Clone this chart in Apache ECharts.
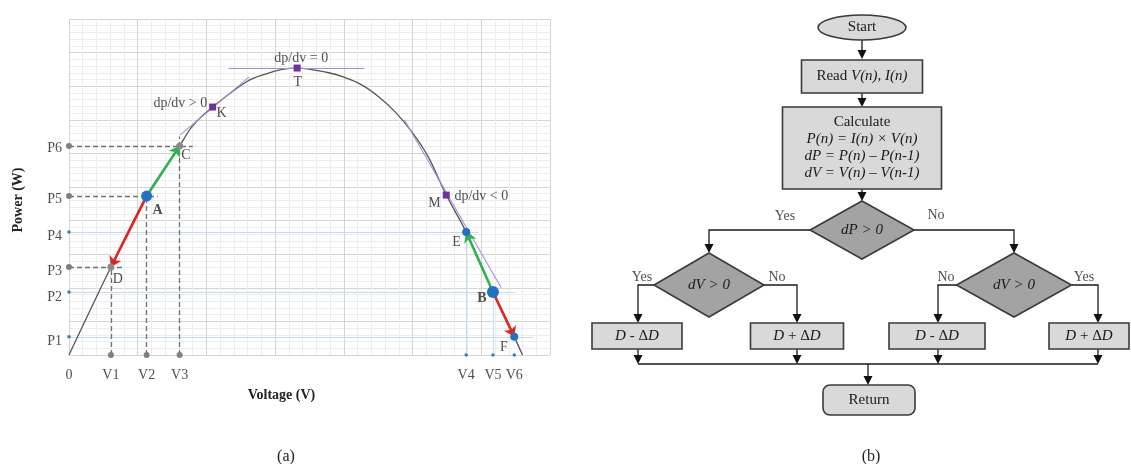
<!DOCTYPE html>
<html><head><meta charset="utf-8">
<script src="https://cdn.jsdelivr.net/npm/echarts@6/dist/echarts.min.js"></script>
<style>html,body{margin:0;padding:0;background:#fff}#c{width:1131px;height:464px}</style>
</head><body><div id="c"></div>
<script>
// ---------- (a) P-V curve data ----------
const curveV = [0, 0.61, 1.13, 1.61, 1.8, 2.09, 2.59, 2.87, 3.1, 3.32, 3.78, 4.0, 4.26, 4.51, 4.75, 4.99, 5.23, 5.49, 5.78, 6.17, 6.48, 6.6];
const curveP = [0, 2.62, 4.73, 6.22, 6.82, 7.38, 8.14, 8.37, 8.5, 8.54, 8.4, 8.27, 8.04, 7.68, 7.23, 6.64, 5.89, 4.76, 3.66, 1.875, 0.54, 0];

const xTickNames = ['0', 'V1', 'V2', 'V3', 'V4', 'V5', 'V6'];
const xTickVals  = [0, 0.61, 1.13, 1.61, 5.78, 6.17, 6.48];
const yTickNames = ['P1', 'P2', 'P3', 'P4', 'P5', 'P6'];
const yTickVals  = [0.42, 1.73, 2.5, 3.54, 4.64, 6.16];

// operating points
const ptA = [1.13, 4.73], ptC = [1.61, 6.22], ptD = [0.61, 2.62];
const ptB = [6.17, 1.875], ptE = [5.78, 3.66], ptF = [6.48, 0.54];
const ptK = [2.09, 7.38], ptT = [3.32, 8.54], ptM = [5.49, 4.76];

// tangent segments
const tangents = [
  [[1.62, 6.55], [2.62, 8.27]],
  [[2.32, 8.54], [4.3, 8.54]],
  [[4.88, 7.0], [6.29, 2.0]]
];
// dashed projection segments
const dashedSegs = [
  [[0, 6.22], [1.8, 6.22]], [[1.61, 0], [1.61, 6.5]],
  [[0, 4.73], [1.29, 4.73]], [[1.13, 0], [1.13, 4.73]],
  [[0, 2.62], [0.81, 2.62]], [[0.61, 0], [0.61, 2.62]]
];
// light blue projection segments
const blueSegs = [
  [[0, 3.66], [5.96, 3.66]], [[0, 1.875], [6.5, 1.875]], [[0, 0.54], [6.75, 0.54]],
  [[5.78, 0], [5.78, 3.66]], [[6.17, 0], [6.17, 1.875]]
];
const greyDots = [[0, 6.22], [0, 4.73], [0, 2.62], [0.61, 0], [1.13, 0], [1.61, 0]];
const blueDots = [[0, 3.66], [0, 1.875], [0, 0.54], [5.78, 0], [6.17, 0], [6.48, 0]];

// annotation texts (text centre in data coords)
const annText = ['C', 'D', 'E', 'F', 'K', 'T', 'M', 'dp/dv > 0', 'dp/dv = 0', 'dp/dv < 0'];
const annV    = [1.70, 0.71, 5.64, 6.33, 2.22, 3.33, 5.32, 1.62, 3.38, 6.0];
const annP    = [5.95, 2.26, 3.36, 0.24, 7.2, 8.13, 4.52, 7.5, 8.84, 4.73];
const boldText = ['A', 'B'];
const boldV    = [1.29, 6.01];
const boldP    = [4.29, 1.67];

// ---------- (b) flowchart ----------
const fcShape = ['ellipse', 'rect', 'rect', 'diamond', 'diamond', 'diamond', 'rect', 'rect', 'rect', 'rect', 'round'];
const fcText = [
  'Start',
  'Read {i|V(n), I(n)}',
  'Calculate\n{i|P(n) = I(n) × V(n)}\n{i|dP = P(n) – P(n-1)}\n{i|dV = V(n) – V(n-1)}',
  '{i|dP > 0}', '{i|dV > 0}', '{i|dV > 0}',
  '{i|D} - Δ{i|D}', '{i|D} + Δ{i|D}', '{i|D} - Δ{i|D}', '{i|D} + Δ{i|D}',
  'Return'
];
const fcCx = [862, 862, 862, 862, 709, 1014, 637, 797, 937, 1089, 869];
const fcCy = [27.5, 76.5, 148, 230, 285, 285, 336, 336, 336, 336, 400];
const fcW  = [88, 121, 159, 104, 110, 115, 90, 93, 96, 80, 92];
const fcH  = [25, 33, 82, 58, 64, 64, 26, 26, 26, 26, 30];
const fcEdges = [
  [[862, 40], [862, 59]], [[862, 93], [862, 107]], [[862, 189], [862, 201]],
  [[810, 230], [709, 230], [709, 253]], [[914, 230], [1014, 230], [1014, 253]],
  [[654, 285], [638, 285], [638, 323]], [[764, 285], [797, 285], [797, 323]],
  [[957, 285], [938, 285], [938, 323]], [[1072, 285], [1098, 285], [1098, 323]],
  [[638, 349], [638, 364]], [[797, 349], [797, 364]], [[938, 349], [938, 364]], [[1098, 349], [1098, 364]],
  [[638, 364], [1098, 364]], [[868, 364], [868, 385]]
];
const fcArrow = [1, 1, 1, 1, 1, 1, 1, 1, 1, 1, 1, 1, 1, 0, 1];
const fcLabel = ['Yes', 'No', 'Yes', 'No', 'No', 'Yes'];
const fcLx = [785, 936, 642, 777, 946, 1084];
const fcLy = [216, 215, 277, 277, 277, 277];

const SERIF = '"Liberation Serif", "DejaVu Serif", serif';
const chart = echarts.init(document.getElementById('c'));

const segData = segs => segs.map(s => ({coords: s}));

chart.setOption({
  animation: false,
  backgroundColor: '#fff',
  title: [
    {text: '(a)', left: 281, top: 444, textAlign: 'center', textStyle: {fontFamily: SERIF, fontSize: 16, fontWeight: 'normal', color: '#222'}},
    {text: '(b)', left: 866, top: 444, textAlign: 'center', textStyle: {fontFamily: SERIF, fontSize: 16, fontWeight: 'normal', color: '#222'}}
  ],
  grid: [
    {left: 69, top: 19, width: 481, height: 336},
    {left: 0, top: 0, width: 1131, height: 464}
  ],
  xAxis: [
    {gridIndex: 0, type: 'value', min: 0, max: 7, interval: 1,
     name: 'Voltage (V)', nameLocation: 'middle', nameGap: 33,
     nameTextStyle: {fontFamily: SERIF, fontWeight: 'bold', fontSize: 14, color: '#222', padding: [0, 56, 0, 0]},
     axisLine: {show: false}, axisTick: {show: false}, axisLabel: {show: false},
     splitLine: {show: true, lineStyle: {color: '#d4d4d4', width: 1}},
     minorTick: {show: false, splitNumber: 5},
     minorSplitLine: {show: true, lineStyle: {color: '#ededed', width: 1}}},
    {gridIndex: 1, type: 'value', min: 0, max: 1131, show: false}
  ],
  yAxis: [
    {gridIndex: 0, type: 'value', min: 0, max: 10, interval: 1,
     name: 'Power (W)', nameLocation: 'middle', nameGap: 44,
     nameTextStyle: {fontFamily: SERIF, fontWeight: 'bold', fontSize: 14, color: '#222', padding: [0, 26, 0, 0]},
     axisLine: {show: false}, axisTick: {show: false}, axisLabel: {show: false},
     splitLine: {show: true, lineStyle: {color: '#d4d4d4', width: 1}},
     minorTick: {show: false, splitNumber: 5},
     minorSplitLine: {show: true, lineStyle: {color: '#ededed', width: 1}}},
    {gridIndex: 1, type: 'value', min: 0, max: 464, inverse: true, show: false}
  ],
  series: [
    {type: 'lines', coordinateSystem: 'cartesian2d', xAxisIndex: 0, yAxisIndex: 0, silent: true,
     lineStyle: {color: '#c3dbf0', width: 1, opacity: 1}, symbol: 'none', data: segData(blueSegs), z: 2},
    {type: 'lines', coordinateSystem: 'cartesian2d', xAxisIndex: 0, yAxisIndex: 0, silent: true,
     lineStyle: {color: '#707070', width: 1.3, type: [5, 3], opacity: 1}, symbol: 'none', data: segData(dashedSegs), z: 3},
    {type: 'line', xAxisIndex: 0, yAxisIndex: 0, data: curveV.map((v, i) => [v, curveP[i]]),
     smooth: 0.35, showSymbol: false, lineStyle: {color: '#555555', width: 1.3}, z: 4},
    {type: 'lines', coordinateSystem: 'cartesian2d', xAxisIndex: 0, yAxisIndex: 0, silent: true,
     lineStyle: {color: '#a98fd0', width: 1.1, opacity: 1}, symbol: 'none', data: segData(tangents), z: 5},
    {type: 'lines', coordinateSystem: 'cartesian2d', xAxisIndex: 0, yAxisIndex: 0, silent: true,
     symbol: ['none', 'arrow'], symbolSize: 10,
     data: [
       {coords: [ptA, ptD], lineStyle: {color: '#e42320', width: 2.6, opacity: 1}},
       {coords: [ptA, ptC], lineStyle: {color: '#2fb34c', width: 2.6, opacity: 1}},
       {coords: [ptB, ptE], lineStyle: {color: '#2fb34c', width: 2.6, opacity: 1}},
       {coords: [ptB, ptF], lineStyle: {color: '#e42320', width: 2.6, opacity: 1}}
     ], z: 6},
    {type: 'scatter', xAxisIndex: 0, yAxisIndex: 0, symbolSize: 6, itemStyle: {color: '#7f7f7f', opacity: 1}, data: greyDots, z: 7},
    {type: 'scatter', xAxisIndex: 0, yAxisIndex: 0, symbolSize: 3.5, itemStyle: {color: '#2d7fc4', opacity: 1}, data: blueDots, z: 7},
    {type: 'scatter', xAxisIndex: 0, yAxisIndex: 0, symbolSize: 7, itemStyle: {color: '#8a8a8a', opacity: 1}, data: [ptC, ptD], z: 8},
    {type: 'scatter', xAxisIndex: 0, yAxisIndex: 0, itemStyle: {color: '#1f72c4', opacity: 1},
     data: [{value: ptA, symbolSize: 11}, {value: ptB, symbolSize: 12}, {value: ptE, symbolSize: 8}, {value: ptF, symbolSize: 8}], z: 8},
    {type: 'scatter', xAxisIndex: 0, yAxisIndex: 0, symbol: 'rect', symbolSize: 7, itemStyle: {color: '#7030a0', opacity: 1},
     data: [ptK, ptT, ptM], z: 8},
    // annotation texts
    {type: 'scatter', xAxisIndex: 0, yAxisIndex: 0, symbolSize: 0, silent: true, z: 9,
     label: {show: true, position: 'inside', formatter: p => p.name, fontFamily: SERIF, fontSize: 14, color: '#222'},
     data: annText.map((t, i) => ({name: t, value: [annV[i], annP[i]]}))},
    {type: 'scatter', xAxisIndex: 0, yAxisIndex: 0, symbolSize: 0, silent: true, z: 9,
     label: {show: true, position: 'inside', formatter: p => p.name, fontFamily: SERIF, fontSize: 14, fontWeight: 'bold', color: '#222'},
     data: boldText.map((t, i) => ({name: t, value: [boldV[i], boldP[i]]}))},
    // tick labels
    {type: 'scatter', xAxisIndex: 0, yAxisIndex: 0, symbolSize: 0, silent: true, z: 9,
     label: {show: true, position: 'bottom', distance: 13, formatter: p => p.name, fontFamily: SERIF, fontSize: 14, color: '#222'},
     data: xTickNames.map((t, i) => ({name: t, value: [xTickVals[i], 0]}))},
    {type: 'scatter', xAxisIndex: 0, yAxisIndex: 0, symbolSize: 0, silent: true, z: 9,
     label: {show: true, position: 'left', distance: 7, formatter: p => p.name, fontFamily: SERIF, fontSize: 14, color: '#222'},
     data: yTickNames.map((t, i) => ({name: t, value: [0, yTickVals[i]]}))},
    // flowchart edges
    {type: 'custom', xAxisIndex: 1, yAxisIndex: 1, silent: true, z: 10,
     data: fcEdges.map(e => e[0]),
     renderItem: (params, api) => {
       const i = params.dataIndex;
       const pts = fcEdges[i].map(p => api.coord(p));
       const ch = [];
       const last = pts[pts.length - 1];
       const linePts = pts.slice();
       if (fcArrow[i]) linePts[linePts.length - 1] = [last[0], last[1] - 6];
       ch.push({type: 'polyline', shape: {points: linePts}, style: {stroke: '#1a1a1a', lineWidth: 1.3, fill: null}});
       if (fcArrow[i]) ch.push({type: 'polygon', shape: {points: [[last[0] - 4.5, last[1] - 9], [last[0] + 4.5, last[1] - 9], [last[0], last[1]]]}, style: {fill: '#111'}});
       return {type: 'group', children: ch};
     }},
    // flowchart nodes
    {type: 'custom', xAxisIndex: 1, yAxisIndex: 1, silent: true, z: 11,
     data: fcCx.map((x, i) => [x, fcCy[i]]),
     renderItem: (params, api) => {
       const i = params.dataIndex;
       const c = api.coord([fcCx[i], fcCy[i]]);
       const w = fcW[i], h = fcH[i];
       const stroke = {stroke: '#3a3a3a', lineWidth: 1.6};
       let shape;
       if (fcShape[i] === 'ellipse') {
         shape = {type: 'ellipse', shape: {cx: c[0], cy: c[1], rx: w / 2, ry: h / 2}, style: Object.assign({fill: '#d9d9d9'}, stroke)};
       } else if (fcShape[i] === 'diamond') {
         shape = {type: 'polygon', shape: {points: [[c[0], c[1] - h / 2], [c[0] + w / 2, c[1]], [c[0], c[1] + h / 2], [c[0] - w / 2, c[1]]]}, style: Object.assign({fill: '#a3a3a3'}, stroke)};
       } else {
         shape = {type: 'rect', shape: {x: c[0] - w / 2, y: c[1] - h / 2, width: w, height: h, r: fcShape[i] === 'round' ? 7 : 0}, style: Object.assign({fill: '#d9d9d9'}, stroke)};
       }
       const txt = {type: 'text', x: c[0], y: c[1], style: {
         text: fcText[i], align: 'center', verticalAlign: 'middle',
         fontFamily: SERIF, fontSize: 15, fill: '#1a1a1a', lineHeight: 17,
         rich: {i: {fontStyle: 'italic', fontFamily: SERIF, fontSize: 15, fill: '#1a1a1a', lineHeight: 17}}
       }};
       return {type: 'group', children: [shape, txt]};
     }},
    // flowchart Yes/No labels
    {type: 'scatter', xAxisIndex: 1, yAxisIndex: 1, symbolSize: 0, silent: true, z: 12,
     label: {show: true, position: 'inside', formatter: p => p.name, fontFamily: SERIF, fontSize: 14, color: '#1a1a1a'},
     data: fcLabel.map((t, i) => ({name: t, value: [fcLx[i], fcLy[i]]}))}
  ]
});
</script></body></html>
